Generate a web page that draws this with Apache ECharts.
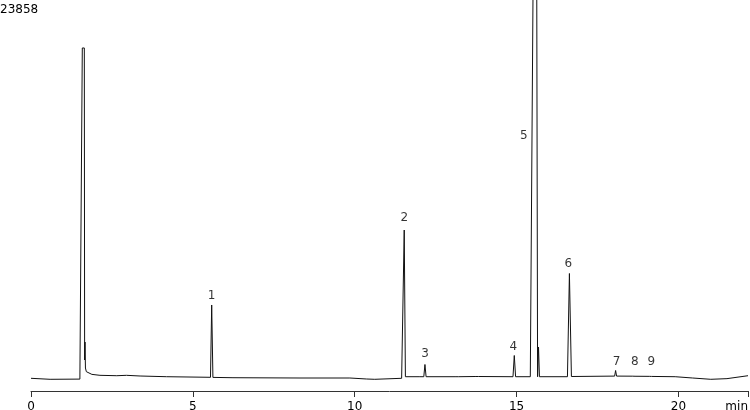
<!DOCTYPE html>
<html>
<head>
<meta charset="utf-8">
<script src="https://cdn.jsdelivr.net/npm/echarts@6/dist/echarts.min.js"></script>
<style>
html,body{margin:0;padding:0;background:#fff;}
#c{width:750px;height:410px;}
</style>
</head>
<body>
<div id="c"></div>
<script>
// ---- data ----
const yMaxLabel = 23858;          // intensity shown at the top of the plot
const xTicks = [0, 5, 10, 15, 20];
const times = [0.00, 0.59, 1.51, 1.566, 1.585, 1.647, 1.657, 1.668, 1.682, 1.71, 1.88, 2.13, 2.65, 2.95, 3.37, 4.19,
  5.545, 5.582, 5.62, 6.24, 8.31, 9.85, 10.37, 10.62, 11.45, 11.495, 11.530, 11.566, 11.99, 12.02, 12.05,
  12.135, 12.17, 12.205, 13.10, 13.15, 13.20, 13.72, 13.77, 13.82, 14.89, 14.93, 14.97, 15.425, 15.597, 15.650,
  15.678, 15.707, 16.572, 16.633, 16.695, 18.03, 18.06, 18.09, 18.59, 18.625, 18.66, 19.10, 19.135, 19.17,
  19.9, 20.44, 21.0, 21.5, 22.15];
const signal = [-19, -82, -69, -63, 20830, 20830, 1136, 2270, 630, 400, 230, 170, 145, 170, 126, 82,
  44, 4608, 38, 19, 0, 0, -63, -82, -19, -10, 9340, 82, 82, 190, 70,
  82, 852, 82, 82, 150, 82, 95, 160, 95, 82, 1420, 82, 82, 50000, 82,
  1957, 82, 82, 6596, 95, 120, 473, 120, 115, 234, 110, 105, 177, 100,
  82, 0, -82, -40, 145];
const peakNames = ['1', '2', '3', '4', '5', '6', '7', '8', '9'];
const peakTimes = [5.582, 11.530, 12.17, 14.93, 15.597, 16.633, 18.06, 18.625, 19.135];
const peakHeights = [4608, 9340, 852, 1420, 50000, 6596, 473, 234, 177];
const timeUnit = 'min';

// ---- styling / layout ----
const xMax = 22.15;
const yMin = -820;
const labelOffsets = [[0, -9], [0, -12], [0, -11], [-1, -9], [-12, 136], [-1, -10], [1, -9], [1, -12], [1, -13]];
const FONT = 'DejaVu Sans';

const chart = echarts.init(document.getElementById('c'), null, {renderer: 'canvas'});
const lineData = times.map((t, i) => [t, signal[i]]);
const labelData = peakTimes.map((t, i) => ({
  value: [t, Math.min(peakHeights[i], yMaxLabel)],
  name: peakNames[i],
  label: {offset: labelOffsets[i]}
}));

chart.setOption({
  animation: false,
  backgroundColor: '#fff',
  title: {
    text: String(yMaxLabel), left: 0, top: 4, padding: 0,
    textStyle: {fontFamily: FONT, fontSize: 12, fontWeight: 'normal', color: '#000'}
  },
  grid: {left: 31, right: 2, top: 0, bottom: 19, containLabel: false, outerBoundsMode: 'none'},
  xAxis: {
    type: 'value', min: 0, max: xMax, interval: 5,
    axisLine: {show: true, onZero: false, lineStyle: {color: '#333', width: 1}},
    axisTick: {show: true, length: 6, lineStyle: {color: '#333'}},
    splitLine: {show: false},
    axisLabel: {
      margin: 10, fontFamily: FONT, fontSize: 12, color: '#000',
      showMinLabel: true, showMaxLabel: true, alignMaxLabel: 'right',
      formatter: v => (xTicks.indexOf(v) >= 0 ? String(v) : (v === xMax ? timeUnit : ''))
    }
  },
  yAxis: {
    type: 'value', min: yMin, max: yMaxLabel, show: false,
    splitLine: {show: false}
  },
  series: [
    {
      type: 'line', data: lineData, showSymbol: false, symbol: 'none', clip: true,
      lineStyle: {color: '#111', width: 1}, z: 2
    },
    {
      type: 'scatter', data: labelData, symbolSize: 0, clip: false, silent: true,
      label: {
        show: true, position: 'inside', formatter: p => p.name,
        fontFamily: FONT, fontSize: 12, color: '#000'
      },
      z: 3
    }
  ]
});
</script>
</body>
</html>
